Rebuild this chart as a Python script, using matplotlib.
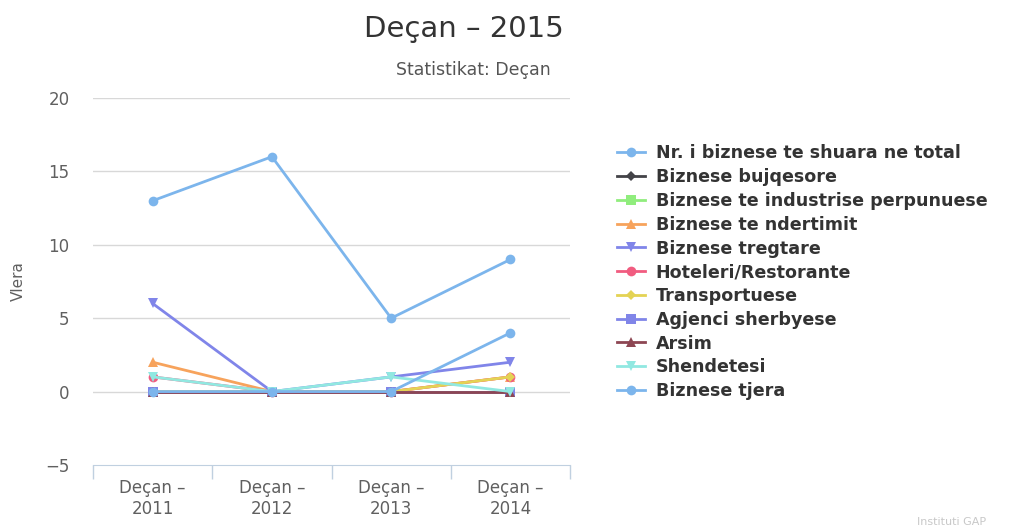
import matplotlib.pyplot as plt
import numpy as np

# categories and series
years = ["Deçan –\n2011", "Deçan –\n2012", "Deçan –\n2013", "Deçan –\n2014"]
names = ["Nr. i biznese te shuara ne total", "Biznese bujqesore",
         "Biznese te industrise perpunuese", "Biznese te ndertimit",
         "Biznese tregtare", "Hoteleri/Restorante", "Transportuese",
         "Agjenci sherbyese", "Arsim", "Shendetesi", "Biznese tjera"]
total = [13, 16, 5, 9]
bujqesore = [0, 0, 0, 0]
industrise = [0, 0, 0, 0]
ndertimit = [2, 0, 0, 1]
tregtare = [6, 0, 1, 2]
hoteleri = [1, 0, 0, 1]
transport = [0, 0, 0, 1]
agjenci = [0, 0, 0, 0]
arsim = [0, 0, 0, 0]
shendetesi = [1, 0, 1, 0]
tjera = [0, 0, 0, 4]
series = [total, bujqesore, industrise, ndertimit, tregtare, hoteleri,
          transport, agjenci, arsim, shendetesi, tjera]

colors = ["#7cb5ec", "#434348", "#90ed7d", "#f7a35c", "#8085e9", "#f15c80",
          "#e4d354", "#8085e8", "#8d4653", "#91e8e1", "#7cb5ec"]
markers = ["o", "D", "s", "^", "v", "o", "D", "s", "^", "v", "o"]

fig = plt.figure(figsize=(10.19, 5.32), dpi=100)
ax = fig.add_axes([0.0913, 0.126, 0.4681, 0.6898])

x = np.arange(len(years))
handles = []
for vals, name, c, m in zip(series, names, colors, markers):
    ms = 5 if m == "D" else 7
    h, = ax.plot(x, vals, color=c, marker=m, markersize=ms, lw=2,
                 markeredgewidth=0, label=name, clip_on=False)
    handles.append(h)

ax.set_xlim(-0.5, 3.5)
ax.set_ylim(-5, 20)
ax.set_yticks([-5, 0, 5, 10, 15, 20])
ax.set_xticks(x)
ax.set_xticklabels(years, color="#606060", fontsize=12)
ax.set_xticks(np.arange(-0.5, 4, 1), minor=True)
ax.tick_params(axis="x", which="major", length=0, pad=10)
ax.tick_params(axis="x", which="minor", length=10, color="#C0D0E0", width=1)
ax.tick_params(axis="y", length=0, labelcolor="#606060", labelsize=12, pad=17)
for yv in [0, 5, 10, 15, 20]:
    ax.axhline(yv, color="#D8D8D8", lw=1, zorder=0)
for s in ["top", "right", "left"]:
    ax.spines[s].set_visible(False)
ax.spines["bottom"].set_color("#C0D0E0")
ax.set_ylabel("Vlera", color="#606060", fontsize=11, labelpad=14)

fig.text(0.455, 0.945, "Deçan – 2015", ha="center", va="center",
         fontsize=21, color="#333333")
fig.text(0.54, 0.868, "Statistikat: Deçan", ha="right", va="center",
         fontsize=12.5, color="#555555")
fig.text(0.968, 0.018, "Instituti GAP", ha="right", va="center",
         fontsize=8, color="#C8C8C8")

fig.legend(handles=handles, loc="upper left", bbox_to_anchor=(0.597, 0.745),
           frameon=False, prop={"weight": "bold", "size": 12.6},
           labelcolor="#333333", handlelength=1.6, handletextpad=0.6,
           labelspacing=0.33, borderpad=0)

fig.savefig("out.png", dpi=100)
